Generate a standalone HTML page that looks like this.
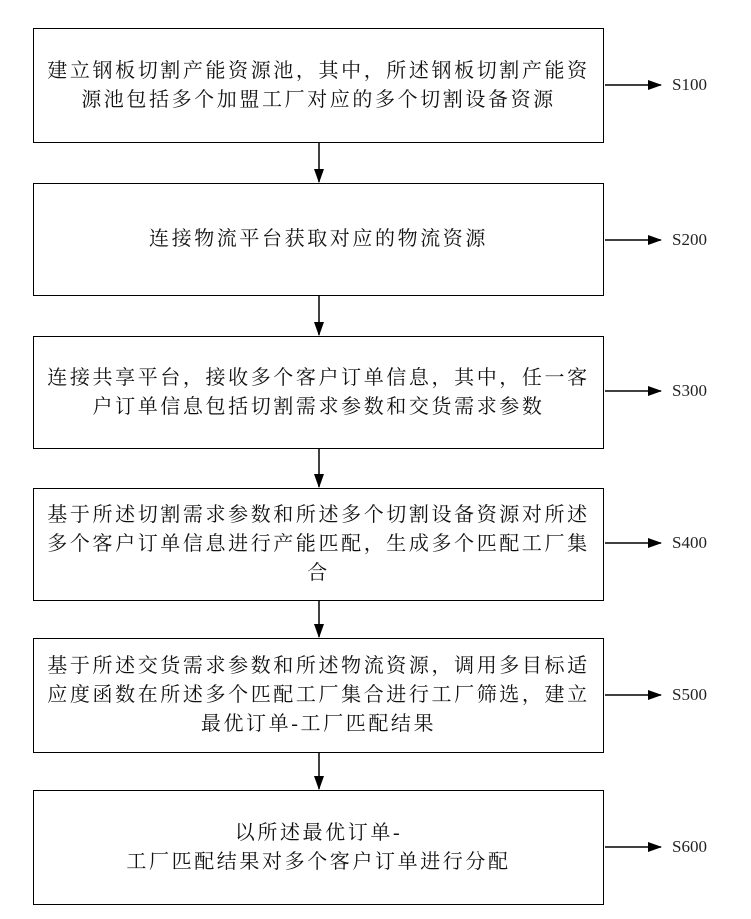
<!DOCTYPE html>
<html><head><meta charset="utf-8"><style>
body{margin:0;width:751px;height:919px;background:#fff;position:relative;overflow:hidden}
.b{position:absolute;left:33px;width:571px;border:1.5px solid #000;display:flex;align-items:center;justify-content:center;text-align:center;font-family:"Liberation Serif","Noto Serif CJK SC",serif;font-size:20px;letter-spacing:2.6px;line-height:29px;color:#111;box-sizing:border-box;padding:0 6px}
.l{position:absolute;left:672px;font-family:"Liberation Serif",serif;font-size:17px;color:#222}
svg{position:absolute;left:0;top:0}
</style></head><body>
<div class="b" style="top:28px;height:115px">建立钢板切割产能资源池，其中，所述钢板切割产能资源池包括多个加盟工厂对应的多个切割设备资源</div>
<div class="b" style="top:183px;height:113px">连接物流平台获取对应的物流资源</div>
<div class="b" style="top:336px;height:113px">连接共享平台，接收多个客户订单信息，其中，任一客户订单信息包括切割需求参数和交货需求参数</div>
<div class="b" style="top:488px;height:113px">基于所述切割需求参数和所述多个切割设备资源对所述多个客户订单信息进行产能匹配，生成多个匹配工厂集合</div>
<div class="b" style="top:638px;height:115px">基于所述交货需求参数和所述物流资源，调用多目标适应度函数在所述多个匹配工厂集合进行工厂筛选，建立最优订单-工厂匹配结果</div>
<div class="b" style="top:790px;height:115px">以所述最优订单-<br>工厂匹配结果对多个客户订单进行分配</div>
<div class="l" style="top:75px">S100</div>
<div class="l" style="top:230px">S200</div>
<div class="l" style="top:381px">S300</div>
<div class="l" style="top:533px">S400</div>
<div class="l" style="top:685px">S500</div>
<div class="l" style="top:837px">S600</div>
<svg width="751" height="919">
<defs><marker id="a" markerWidth="14" markerHeight="10" refX="13" refY="5" orient="auto" markerUnits="userSpaceOnUse"><path d="M0,0L14,5L0,10z" fill="#000"/></marker></defs>
<g stroke="#000" stroke-width="1.5" marker-end="url(#a)">
<line x1="319" y1="143" x2="319" y2="182"/>
<line x1="319" y1="296" x2="319" y2="335"/>
<line x1="319" y1="449" x2="319" y2="487"/>
<line x1="319" y1="601" x2="319" y2="637"/>
<line x1="319" y1="753" x2="319" y2="789"/>
<line x1="605" y1="85" x2="661" y2="85"/>
<line x1="605" y1="240" x2="661" y2="240"/>
<line x1="605" y1="391" x2="661" y2="391"/>
<line x1="605" y1="543" x2="661" y2="543"/>
<line x1="605" y1="695" x2="661" y2="695"/>
<line x1="605" y1="847" x2="661" y2="847"/>
</g></svg>
</body></html>
